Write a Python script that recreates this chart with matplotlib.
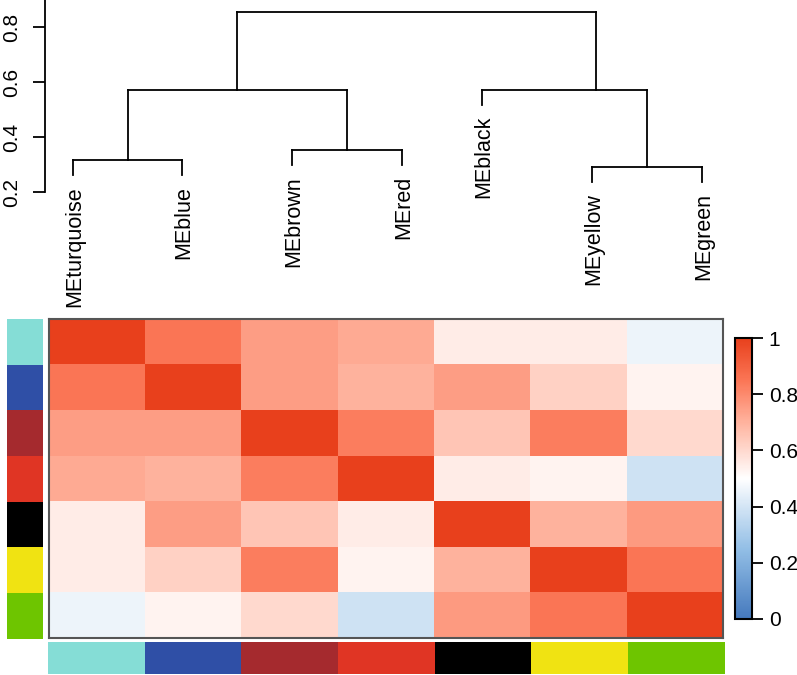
import matplotlib
matplotlib.use('Agg')
import matplotlib.pyplot as plt
import numpy as np
from matplotlib.colors import LinearSegmentedColormap, ListedColormap

plt.rcParams['font.family'] = ['Liberation Sans', 'DejaVu Sans']

# module eigengenes in dendrogram order
modules = ['MEturquoise', 'MEblue', 'MEbrown', 'MEred', 'MEblack', 'MEyellow', 'MEgreen']
module_colors = ['#85ddd6', '#2f4fa6', '#a52a2e', '#e03524', '#000000', '#f0e312', '#6ec500']

# eigengene adjacency
adjacency = np.array([
    [1.00, 0.85, 0.75, 0.72, 0.55, 0.55, 0.46],
    [0.85, 1.00, 0.75, 0.70, 0.75, 0.62, 0.53],
    [0.75, 0.75, 1.00, 0.83, 0.65, 0.83, 0.60],
    [0.72, 0.70, 0.83, 1.00, 0.55, 0.53, 0.39],
    [0.55, 0.75, 0.65, 0.55, 1.00, 0.70, 0.76],
    [0.55, 0.62, 0.83, 0.53, 0.70, 1.00, 0.85],
    [0.46, 0.53, 0.60, 0.39, 0.76, 0.85, 1.00],
])

# dendrogram merges: (left node, right node, height); leaves are 0..6, merges 7..12
merges = [
    (0, 1, 0.316),
    (2, 3, 0.353),
    (5, 6, 0.291),
    (7, 8, 0.571),
    (4, 9, 0.571),
    (10, 11, 0.853),
]
hang = 0.055

# layout (pixels of the 797x675 figure)
W, H = 797, 675
leaf_x = [73, 182, 292, 402, 482, 592, 702]
attach = {11: 0.69}   # where the parent stem sits on a merge bar (default middle)

cmap = LinearSegmentedColormap.from_list('bwr_wgcna', [
    (0.0, '#4579bd'), (0.25, '#93bfe6'), (0.5, '#ffffff'),
    (0.7, '#ffb39e'), (0.85, '#fb7656'), (1.0, '#e8401c')])

fig = plt.figure(figsize=(W / 100, H / 100), dpi=100)

def box(x0, y0, x1, y1):
    # pixel box (top-left origin) -> figure fraction
    return [x0 / W, 1 - y1 / H, (x1 - x0) / W, (y1 - y0) / H]

# ---- dendrogram ----
ax_d = fig.add_axes(box(45, 0, 797, 192))
ax_d.set_xlim(45, 797)
ax_d.set_ylim(0.2, 0.2 + 192 / 275)
for s in ['top', 'right', 'bottom']:
    ax_d.spines[s].set_visible(False)
ax_d.spines['left'].set_linewidth(1.3)
ax_d.set_xticks([])
ax_d.set_yticks([0.2, 0.4, 0.6, 0.8])
ax_d.set_yticklabels(['0.2', '0.4', '0.6', '0.8'], rotation=90, va='center')
ax_d.tick_params(axis='y', length=9, width=1.3, pad=8, labelsize=15)

node_x = {i: x for i, x in enumerate(leaf_x)}
node_h = {}
for i, (a, b, h) in enumerate(merges):
    node = len(leaf_x) + i
    xa, xb = node_x[a], node_x[b]
    for child, xc in ((a, xa), (b, xb)):
        ybot = node_h.get(child, h - hang)
        ax_d.plot([xc, xc], [ybot, h], color='black', lw=1.3, clip_on=False)
    ax_d.plot([xa, xb], [h, h], color='black', lw=1.3, clip_on=False)
    node_x[node] = xa + attach.get(node, 0.5) * (xb - xa)
    node_h[node] = h

parent_h = {}
for a, b, h in merges:
    parent_h[a] = h
    parent_h[b] = h
for i, name in enumerate(modules):
    y_end = parent_h[i] - hang
    ax_d.text(leaf_x[i] + 2, y_end - 0.04, name, rotation=90, ha='center', va='top',
              fontsize=15.5, clip_on=False)

# ---- heatmap ----
ax_h = fig.add_axes(box(49, 319, 723, 638))
ax_h.imshow(adjacency, cmap=cmap, vmin=0, vmax=1, aspect='auto', interpolation='nearest')
ax_h.set_xticks([])
ax_h.set_yticks([])
for s in ax_h.spines.values():
    s.set_edgecolor('#555555')
    s.set_linewidth(1.5)

color_cmap = ListedColormap(module_colors)
idx = np.arange(len(modules))

ax_l = fig.add_axes(box(7, 319, 43, 639))
ax_l.imshow(idx.reshape(-1, 1), cmap=color_cmap, aspect='auto', interpolation='nearest')
ax_l.axis('off')

ax_b = fig.add_axes(box(48, 642, 724, 674))
ax_b.imshow(idx.reshape(1, -1), cmap=color_cmap, aspect='auto', interpolation='nearest')
ax_b.axis('off')

# ---- colour key ----
ax_c = fig.add_axes(box(735, 338, 752, 619))
sm = plt.cm.ScalarMappable(cmap=cmap, norm=plt.Normalize(0, 1))
cb = fig.colorbar(sm, cax=ax_c, ticks=[0, 0.2, 0.4, 0.6, 0.8, 1])
cb.ax.set_yticklabels(['0', '0.2', '0.4', '0.6', '0.8', '1'])
cb.ax.tick_params(length=8, width=1.3, labelsize=15, pad=4)
cb.outline.set_linewidth(1.5)
cb.outline.set_edgecolor('black')

plt.savefig('out.png', dpi=100)
